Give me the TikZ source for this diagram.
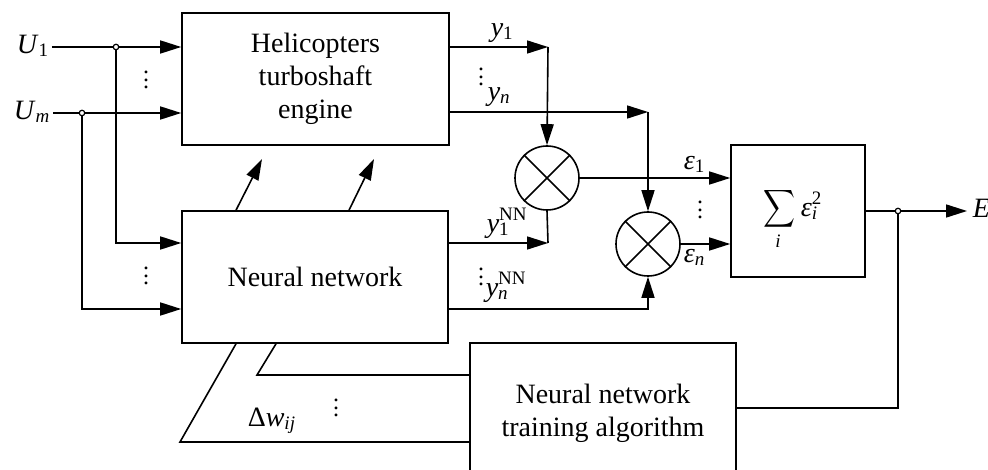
\documentclass[tikz,border=0pt]{standalone}
\usepackage{amsmath}
\usepackage{graphicx}
\usepackage{fontspec}
\setmainfont{Liberation Serif}
\usetikzlibrary{arrows.meta}
\newcommand{\myvar}[1]{\textit{#1}}
\newcommand{\mysub}[1]{\raisebox{-3pt}{\fontsize{19}{19}\selectfont #1}}
\newcommand{\mysup}[1]{\raisebox{12pt}{\fontsize{19}{19}\selectfont #1}}
\newcommand{\vdd}{\vbox{\fontsize{24}{24}\selectfont\baselineskip=7.5pt\lineskiplimit=-20pt\hbox{.}\hbox{.}\hbox{.}}}
\begin{document}
\begin{tikzpicture}[x=1pt,y=-1pt,line width=1.6pt,
 every node/.style={font=\fontsize{28}{33}\selectfont},
 box/.style={draw,rectangle,inner sep=0pt},
 mult/.style={draw,circle,minimum size=64pt,inner sep=0pt},
 jdot/.style={draw,circle,fill=white,minimum size=5.5pt,inner sep=0pt,line width=1.2pt},
 lbl/.style={inner sep=0pt,anchor=base west},
 dotsn/.style={inner sep=0pt},
 arr/.style={-{Triangle[length=21pt,width=13pt]}}]
\useasboundingbox (0,0) rectangle (988,470);
\clip (0,0) rectangle (988,470);

% blocks
\node[box,minimum width=267pt,minimum height=132pt,align=center] (eng) at (315.5,79) {Helicopters\\turboshaft\\engine};
\node[box,minimum width=266pt,minimum height=132pt] (nn) at (315,277) {Neural network};
\node[box,minimum width=134pt,minimum height=132pt] (sum) at (798,211) {};
\node[inner sep=0pt] (sig) at (779,209) {\resizebox*{32pt}{42pt}{$\displaystyle\sum$}};
\node[inner sep=0pt,anchor=base] (sumi) at (778,248) {\fontsize{19}{19}\selectfont\myvar{i}};
\node[lbl] (sumeps) at (800,217) {\myvar{ε}\rlap{\mysub{\myvar{i}}}\mysup{2}};
\node[box,minimum width=266pt,minimum height=150pt] (train) at (603,418) {};
\node[align=center] (trainlbl) at (603,413) {Neural network\\training algorithm};
\node[mult] (m1) at (547,178) {};
\node[mult] (m2) at (648,244) {};
\draw (m1.north west) -- (m1.south east) (m1.north east) -- (m1.south west);
\draw (m2.north west) -- (m2.south east) (m2.north east) -- (m2.south west);

% coordinates
\coordinate (j1) at (116,47);
\coordinate (j2) at (82,113);
\coordinate (j3) at (898,211);
\coordinate (c1) at (548,47);
\coordinate (c2) at (648,112);
\coordinate (c3) at (548,243);
\coordinate (a1) at (262,159);
\coordinate (a2) at (374,159);
\coordinate (f1) at (180,442);
\coordinate (f2) at (257,375);

% labels
\node[lbl] (u1) at (16,54) {\myvar{U}\mysub{1}};
\node[lbl] (um) at (13,120) {\myvar{U}\mysub{\myvar{m}}};
\node[lbl] (ly1) at (490,37) {\myvar{y}\mysub{1}};
\node[lbl] (lyn) at (487,101) {\myvar{y}\mysub{\myvar{n}}};
\node[lbl] (ly1nn) at (486,233) {\myvar{y}\rlap{\mysub{1}}\mysup{NN}};
\node[lbl] (lynnn) at (485,297) {\myvar{y}\rlap{\mysub{\myvar{n}}}\mysup{NN}};
\node[lbl] (le1) at (683,170) {\myvar{ε}\mysub{1}};
\node[lbl] (len) at (683,263) {\myvar{ε}\mysub{\myvar{n}}};
\node[lbl] (ldw) at (247,426) {Δ\myvar{w}\mysub{\myvar{ij}}};
\node[lbl] (E) at (972,218) {\myvar{E}};
\node[dotsn] (dd1) at (146,80) {\vdd};
\node[dotsn] (dd2) at (146,276) {\vdd};
\node[dotsn] (dd3) at (481,77) {\vdd};
\node[dotsn] (dd4) at (481,277) {\vdd};
\node[dotsn] (dd5) at (700,210) {\vdd};
\node[dotsn] (dd6) at (336,408) {\vdd};

% connectors
\draw[arr] ([xshift=3pt]u1.east |- j1) -- (j1 -| eng.west);
\draw[arr] ([xshift=3pt]um.east |- j2) -- (j2 -| eng.west);
\draw[arr] (j1) |- ([yshift=34pt]nn.west);
\draw[arr] (j2) |- ([yshift=-32pt]nn.west);
\draw[arr] (c1 -| eng.east) -- (c1);
\draw[arr] (c1) -- (m1.north);
\draw[arr] (c2 -| eng.east) -- (c2);
\draw[arr] (c2) -- (m2.north);
\draw[arr] (c3 -| nn.east) -- (c3);
\draw (c3) -- (m1.south);
\draw[arr] ([yshift=-32pt]nn.east) -| (m2.south);
\draw[arr] (m1.east) -- (m1.east -| sum.west);
\draw[arr] (m2.east) -- (m2.east -| sum.west);
\draw[arr] (sum.east) -- ([xshift=-5pt]sum.east -| E.west);
\draw ([yshift=10pt]train.east) -| (j3);
\draw ([yshift=-24pt]train.west) -- (f1) -- ([xshift=-79pt]nn.south);
\draw ([yshift=43pt]train.west) -- (f2) -- ([xshift=-39pt]nn.south);
\draw[arr] ([xshift=-79pt]nn.north) -- (a1);
\draw[arr] ([xshift=34pt]nn.north) -- (a2);

% junctions
\node[jdot] (d1) at (j1) {};
\node[jdot] (d2) at (j2) {};
\node[jdot] (d3) at (j3) {};
\end{tikzpicture}
\end{document}
